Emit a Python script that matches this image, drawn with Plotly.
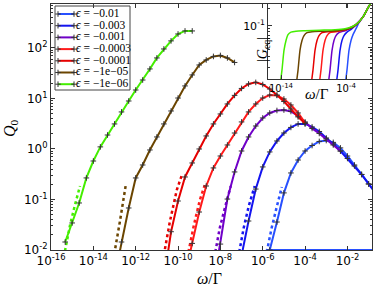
import numpy as np
import plotly.graph_objects as go

# ---------------- data ----------------
eps_labels = ["−0.01", "−0.003", "−0.001", "−0.0003", "−0.0001", "−1e−05", "−1e−06"]
colors = ["#2850ff", "#1414f0", "#7000c8", "#ff1a1a", "#e60000", "#6b4500", "#44ee00"]

# main panel, solid curves: log10(omega/Gamma) and Q0
lw_001 = [-6.0, -5.67, -5.33, -5.0, -4.67, -4.33, -4.0, -3.67, -3.33, -3.0, -2.67, -2.33, -2.0, -1.67, -1.33, -1.0, -0.67]
q_001 = [0.00203, 0.0100, 0.0358, 0.135, 0.335, 0.605, 0.912, 1.17, 1.41, 1.47, 1.35, 1.05, 0.726, 0.482, 0.313, 0.203, 0.135]
lw_0003 = [-7.33, -7.0, -6.67, -6.33, -6.0, -5.67, -5.33, -5.0, -4.67, -4.33, -4.0, -3.67, -3.33, -3.0, -2.67, -2.33, -2.0, -1.67, -1.33, -1.0, -0.67]
q_0003 = [0.00161, 0.00833, 0.0375, 0.161, 0.441, 0.873, 1.44, 2.07, 2.67, 3.13, 3.13, 2.73, 2.22, 1.65, 1.26, 0.912, 0.649, 0.460, 0.313, 0.203, 0.135]
lw_0001 = [-8.33, -8.0, -7.67, -7.33, -7.0, -6.67, -6.33, -6.0, -5.67, -5.33, -5.0, -4.67, -4.33, -4.0, -3.67, -3.33, -3.0, -2.67, -2.33]
q_0001 = [0.00203, 0.0131, 0.102, 0.351, 0.912, 1.73, 2.85, 4.11, 5.16, 5.78, 5.91, 5.53, 4.50, 3.43, 2.55, 2.03, 1.58, 1.20, 0.912]
lw_3e4 = [-9.67, -9.33, -9.0, -8.67, -8.33, -8.0, -7.67, -7.33, -7.0, -6.67, -6.33, -6.0, -5.67, -5.33, -5.0, -4.67, -4.33, -4.0]
q_3e4 = [0.0032, 0.0135, 0.0565, 0.185, 0.421, 0.726, 1.20, 2.07, 3.43, 5.41, 7.78, 10.2, 11.7, 11.5, 9.77, 7.43, 5.16, 3.3]
lw_1e4 = [-10.67, -10.33, -10.0, -9.67, -9.33, -9.0, -8.67, -8.33, -8.0, -7.67, -7.33, -7.0, -6.67, -6.33, -6.0, -5.67, -5.33, -5.0, -4.67, -4.33, -4.0]
q_1e4 = [0.00255, 0.0230, 0.0933, 0.279, 0.528, 1.00, 1.81, 3.13, 4.93, 7.78, 11.5, 15.8, 19.4, 20.8, 18.9, 15.4, 11.7, 8.73, 6.19, 4.31, 3.2]
lw_1e5 = [-13.0, -12.67, -12.33, -12.0, -11.67, -11.33, -11.0, -10.67, -10.33, -10.0, -9.67, -9.33, -9.0, -8.67, -8.33, -8.0, -7.67, -7.33]
q_1e5 = [0.0029, 0.0144, 0.0679, 0.267, 0.482, 0.955, 1.73, 3.13, 5.65, 10.2, 17.7, 29.2, 46.0, 57.8, 67.9, 71.0, 63.4, 51.6]
lw_1e6 = [-15.33, -15.0, -14.67, -14.33, -14.0, -13.67, -13.33, -13.0, -12.67, -12.33, -12.0, -11.67, -11.33, -11.0, -10.67, -10.33, -10.0, -9.67, -9.33]
q_1e6 = [0.0144, 0.0343, 0.0853, 0.267, 0.578, 1.10, 1.89, 3.13, 5.41, 8.91, 14.7, 23.2, 38.4, 63.4, 95.5, 138, 189, 217, 217]

# main panel, dotted approximations (low-frequency part)
dlw_001 = [-5.81, -5.58, -5.34, -5.10];   dq_001 = [0.00912, 0.0273, 0.0710, 0.177]
dlw_0003 = [-7.11, -6.90, -6.66, -6.38];  dq_0003 = [0.00912, 0.0273, 0.0743, 0.185]
dlw_0001 = [-8.24, -8.03, -7.79, -7.51];  dq_0001 = [0.00912, 0.0273, 0.0679, 0.185]
dlw_3e4 = [-9.51, -9.25, -8.97, -8.69];   dq_3e4 = [0.00912, 0.0313, 0.0977, 0.222]
dlw_1e4 = [-10.67, -10.39, -10.06, -9.82]; dq_1e4 = [0.00796, 0.0358, 0.154, 0.305]
dlw_1e5 = [-13.08, -12.98, -12.75, -12.46]; dq_1e5 = [0.00634, 0.0100, 0.0358, 0.203]
dlw_1e6 = [-15.34, -15.10, -14.87, -14.63]; dq_1e6 = [0.00955, 0.0313, 0.0778, 0.185]

# thin blue trace lying on the lower frame (eps = -0.01, high frequency)
lw_floor = [-5.85, -0.84]
q_floor = [0.0101, 0.0101]

# inset: log10(omega/Gamma) and |G_eq|
ilw_001 = [-4.23, -3.85, -3.54, -3.23, -2.92, -2.46, -2.0, -1.38, -0.62, 0.0]
ig_001 = [0.00822, 0.0178, 0.0384, 0.0564, 0.0711, 0.0895, 0.113, 0.142, 0.201, 0.263]
ilw_0003 = [-5.62, -5.23, -4.92, -4.62, -4.31, -3.85, -3.08, -2.31, -1.38, -0.62, 0.0]
ig_0003 = [0.00822, 0.0178, 0.0384, 0.0564, 0.0684, 0.0782, 0.0895, 0.109, 0.142, 0.201, 0.263]
ilw_0001 = [-6.85, -6.46, -6.15, -5.85, -5.54, -5.08, -4.15, -3.08, -2.31, -1.38, -0.62, 0.0]
ig_0001 = [0.00822, 0.0178, 0.0384, 0.0564, 0.0684, 0.0767, 0.0828, 0.0931, 0.109, 0.142, 0.201, 0.263]
ilw_3e4 = [-8.23, -7.85, -7.54, -7.23, -6.92, -6.46, -5.54, -4.15, -3.08, -2.31, -1.38, -0.62, 0.0]
ig_3e4 = [0.00822, 0.0178, 0.0384, 0.0564, 0.0684, 0.0767, 0.0798, 0.0861, 0.0966, 0.109, 0.142, 0.201, 0.263]
ilw_1e4 = [-9.46, -9.08, -8.77, -8.46, -8.15, -7.69, -6.77, -4.92, -3.38, -2.46, -1.38, -0.62, 0.0]
ig_1e4 = [0.00822, 0.0178, 0.0384, 0.0564, 0.0684, 0.0767, 0.0798, 0.0828, 0.0912, 0.104, 0.142, 0.201, 0.263]
ilw_1e5 = [-11.77, -11.38, -11.08, -10.77, -10.46, -10.0, -9.23, -7.23, -4.92, -3.38, -2.46, -1.38, -0.62, 0.0]
ig_1e5 = [0.00822, 0.0178, 0.0384, 0.0564, 0.0684, 0.0767, 0.0798, 0.0813, 0.0845, 0.0912, 0.104, 0.142, 0.201, 0.263]
ilw_1e6 = [-14.23, -13.85, -13.54, -13.23, -12.92, -12.46, -11.69, -10.31, -8.0, -5.69, -4.15, -3.08, -2.15, -1.38, -0.62, 0.0]
ig_1e6 = [0.00822, 0.0178, 0.0384, 0.0564, 0.0711, 0.0782, 0.0813, 0.0828, 0.0845, 0.0861, 0.0895, 0.0966, 0.113, 0.142, 0.201, 0.263]

main_x_ticks = [-16, -14, -12, -10, -8, -6, -4, -2]
main_y_ticks = [-2, -1, 0, 1, 2]
inset_x_ticks = [-14, -4]
inset_y_ticks = [-1]

solid = [(lw_001, q_001), (lw_0003, q_0003), (lw_0001, q_0001), (lw_3e4, q_3e4),
         (lw_1e4, q_1e4), (lw_1e5, q_1e5), (lw_1e6, q_1e6)]
dotted = [(dlw_001, dq_001), (dlw_0003, dq_0003), (dlw_0001, dq_0001), (dlw_3e4, dq_3e4),
          (dlw_1e4, dq_1e4), (dlw_1e5, dq_1e5), (dlw_1e6, dq_1e6)]
inset = [(ilw_001, ig_001), (ilw_0003, ig_0003), (ilw_0001, ig_0001), (ilw_3e4, ig_3e4),
         (ilw_1e4, ig_1e4), (ilw_1e5, ig_1e5), (ilw_1e6, ig_1e6)]

# ---------------- figure ----------------
W, H = 373, 287
L, R, T, B = 51, 1, 4, 37
PW, PH = W - L - R, H - T - B


def px(x):
    return (x - L) / PW


def py(y):
    return (H - B - y) / PH


def sup(k):
    return "10<sup>%s</sup>" % ("-%d" % -k if k < 0 else "%d" % k)


mark = dict(symbol="cross-thin", size=4, color="#333", line=dict(width=1, color="#333"))

fig = go.Figure()
fig.add_trace(go.Scatter(x=10 ** np.array(lw_floor), y=q_floor, mode="lines",
                         line=dict(color=colors[0], width=1.5), showlegend=False,
                         hoverinfo="skip", cliponaxis=False))
for i in range(7):
    dlw, dq = dotted[i]
    fig.add_trace(go.Scatter(x=10 ** np.array(dlw), y=dq, mode="lines",
                             line=dict(color=colors[i], width=2.5, dash="dot"),
                             showlegend=False, hoverinfo="skip"))
    lw, q = solid[i]
    fig.add_trace(go.Scatter(x=10 ** np.array(lw), y=q, mode="lines+markers",
                             line=dict(color=colors[i], width=2), marker=mark,
                             showlegend=False))
for i in range(7):
    ilw, ig = inset[i]
    fig.add_trace(go.Scatter(x=10 ** np.array(ilw), y=ig, xaxis="x2", yaxis="y2",
                             mode="lines",
                             line=dict(color=colors[i], width=1.5, shape="spline", smoothing=0.6),
                             showlegend=False))

# legend drawn in its own small box
for i in range(7):
    yy = 8 + 11.7 * i
    fig.add_trace(go.Scatter(x=[3, 19], y=[yy, yy], xaxis="x3", yaxis="y3",
                             mode="lines+markers", line=dict(color=colors[i], width=2),
                             marker=mark, showlegend=False, hoverinfo="skip", cliponaxis=False))
    fig.add_trace(go.Scatter(x=[21], y=[yy], xaxis="x3", yaxis="y3", mode="text",
                             text=["<i>ϵ</i> = %s" % eps_labels[i]],
                             textposition="middle right", cliponaxis=False,
                             textfont=dict(family="Liberation Serif", size=11.5, color="black"),
                             showlegend=False, hoverinfo="skip"))

axcol = "#333"
tickfont = dict(family="DejaVu Sans", size=12, color="black")
common = dict(type="log", ticks="inside", tickcolor=axcol, showline=True, linecolor=axcol,
              linewidth=1, mirror="ticks", showgrid=False, zeroline=False, automargin=False)

fig.update_layout(
    template="none",
    width=W, height=H, margin=dict(l=L, r=R, t=T, b=B, autoexpand=False),
    paper_bgcolor="white", plot_bgcolor="rgba(0,0,0,0)", showlegend=False,
    xaxis=dict(common, range=[-16, -0.84], ticklen=4,
               tickvals=[10.0 ** k for k in main_x_ticks],
               ticktext=[sup(k) for k in main_x_ticks], tickfont=tickfont),
    yaxis=dict(common, range=[-2, 2.87], ticklen=4,
               tickvals=[10.0 ** k for k in main_y_ticks],
               ticktext=[sup(k) for k in main_y_ticks], tickfont=tickfont,
               minor=dict(ticks="inside", ticklen=2, tickcolor=axcol, dtick="D1", showgrid=False)),
    xaxis2=dict(common, domain=[px(268), 1.0], anchor="y2", range=[-16, 0], ticklen=4,
                tickvals=[10.0 ** k for k in inset_x_ticks],
                ticktext=[sup(k) for k in inset_x_ticks],
                tickfont=dict(family="DejaVu Sans", size=10, color="black")),
    yaxis2=dict(common, domain=[py(79), 1.0], anchor="x2", range=[-1.9, -0.63], ticklen=4,
                tickvals=[10.0 ** k for k in inset_y_ticks],
                ticktext=[sup(k) for k in inset_y_ticks],
                tickfont=dict(family="DejaVu Sans", size=11, color="black"),
                minor=dict(ticks="inside", ticklen=2, tickcolor=axcol, dtick="D1", showgrid=False)),
    xaxis3=dict(domain=[px(55), px(130)], anchor="y3", range=[0, 75], visible=False, fixedrange=True),
    yaxis3=dict(domain=[py(90), py(6)], anchor="x3", range=[84, 0], visible=False, fixedrange=True),
)

fig.add_shape(type="rect", xref="paper", yref="paper", x0=px(55), x1=px(130), y0=py(90), y1=py(6),
              line=dict(color="#444", width=1), fillcolor="rgba(0,0,0,0)", layer="above")

serif = "Liberation Serif"
ann = dict(xref="paper", yref="paper", showarrow=False, xanchor="center", yanchor="middle")
fig.add_annotation(ann, x=px(10), y=py(128), text="<i>Q</i><sub>0</sub>", textangle=-90,
                   font=dict(family=serif, size=16, color="black"))
fig.add_annotation(ann, x=px(209), y=py(278), text="<i>ω</i>/Γ",
                   font=dict(family=serif, size=16, color="black"))
fig.add_annotation(ann, x=px(263), y=py(50), text="|<i>G</i><sub>eq</sub>|", textangle=-90,
                   font=dict(family=serif, size=14, color="black"))
fig.add_annotation(ann, x=px(317), y=py(94), text="<i>ω</i>/Γ",
                   font=dict(family=serif, size=15, color="black"))

fig.write_html("out.html", config={"displayModeBar": False},
               post_script="document.body.style.margin='0';")
